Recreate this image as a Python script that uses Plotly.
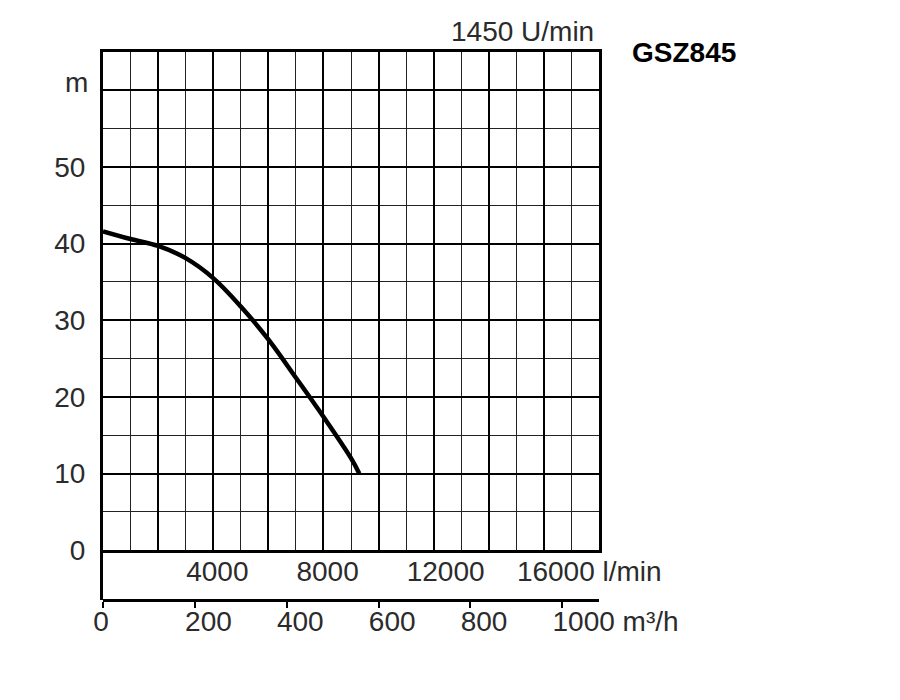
import plotly.graph_objects as go

# pump curve GSZ845 at 1450 U/min, flow in l/min, head in m
flow_lmin = [0, 1000, 2000, 3000, 4000, 5000, 6000, 7000, 8000, 9000, 9300]
head_m = [41.6, 40.6, 39.7, 38.1, 35.5, 31.8, 27.5, 22.5, 17.4, 12.0, 10.0]

lmin_ticks = [4000, 8000, 12000, 16000]
lmin_labels = ["4000", "8000", "12000", "16000 l/min"]
m3h_ticks = [0, 200, 400, 600, 800, 1000]
m3h_labels = ["0", "200", "400", "600", "800", "1000 m³/h"]
head_ticks = [0, 10, 20, 30, 40, 50, 60]
head_labels = ["0", "10", "20", "30", "40", "50", ""]

LMIN_MAX = 18000
M3H_MAX = LMIN_MAX * 0.06
TXT = "#2b2b2b"
FONT = "Liberation Sans, Arial, sans-serif"

fig = go.Figure()

fig.add_trace(go.Scatter(
    x=flow_lmin, y=head_m, mode="lines", line_shape="spline",
    line=dict(color="black", width=4.5),
    hoverinfo="skip", showlegend=False,
))
# invisible copies so the extra axes get drawn
fig.add_trace(go.Scatter(
    x=[q * 0.06 for q in flow_lmin], y=head_m, mode="lines",
    xaxis="x2", line=dict(width=0), opacity=0,
    hoverinfo="skip", showlegend=False,
))
fig.add_trace(go.Scatter(
    x=flow_lmin, y=head_m, mode="lines",
    xaxis="x3", line=dict(width=0), opacity=0,
    hoverinfo="skip", showlegend=False,
))
fig.add_trace(go.Scatter(
    x=[], y=[], mode="lines", xaxis="x2", yaxis="y2",
    hoverinfo="skip", showlegend=False,
))

band = 50 / 550

fig.update_layout(
    width=900, height=700,
    # page body adds a few px, so margins are a bit smaller on top/left
    margin=dict(l=95, r=309, t=44, b=108, autoexpand=False),
    paper_bgcolor="white", plot_bgcolor="white",
    font=dict(family=FONT, size=28, color=TXT),
    xaxis=dict(
        range=[0, LMIN_MAX], tickvals=list(range(0, LMIN_MAX + 1, 2000)),
        showticklabels=False, ticks="",
        showgrid=True, gridcolor="black", gridwidth=2,
        minor=dict(dtick=1000, showgrid=True, gridcolor="#222", gridwidth=1),
        showline=True, linecolor="black", linewidth=3, mirror=True,
        zeroline=False, anchor="y", automargin=False,
    ),
    xaxis3=dict(
        range=[0, LMIN_MAX], overlaying="x", anchor="y", side="bottom",
        tickvals=lmin_ticks, ticktext=lmin_labels, tickangle=0,
        ticklabelposition="outside right", ticklabelshift=-27,
        ticklabelstandoff=2,
        showgrid=False, zeroline=False, ticks="", showline=False,
        automargin=False,
    ),
    xaxis2=dict(
        range=[0, M3H_MAX], overlaying="x", anchor="free", position=0,
        side="bottom", tickangle=0,
        tickvals=m3h_ticks, ticktext=m3h_labels,
        ticklabelposition="outside right", ticklabelshift=-12,
        ticklabelstandoff=-5,
        ticks="outside", ticklen=6, tickwidth=1.5, tickcolor="black",
        showline=True, linecolor="black", linewidth=3,
        showgrid=False, zeroline=False, automargin=False,
    ),
    yaxis=dict(
        domain=[band, 1], range=[0, 65],
        tickvals=head_ticks, ticktext=head_labels, ticks="",
        ticklabelstandoff=9,
        showgrid=True, gridcolor="black", gridwidth=2,
        minor=dict(dtick=5, showgrid=True, gridcolor="#222", gridwidth=1.3),
        showline=True, linecolor="black", linewidth=3, mirror=True,
        zeroline=False, anchor="x", automargin=False,
    ),
    yaxis2=dict(
        domain=[0, band], range=[0, 1], anchor="x",
        showline=True, linecolor="black", linewidth=3,
        showgrid=False, zeroline=False, showticklabels=False, ticks="",
        automargin=False,
    ),
    annotations=[
        dict(text="1450 U/min", xref="paper", yref="paper",
             x=0.994, y=1.038, xanchor="right", yanchor="middle",
             showarrow=False, font=dict(size=28, color=TXT)),
        dict(text="<b>GSZ845</b>", xref="paper", yref="paper",
             x=1.062, y=1.0, xanchor="left", yanchor="middle",
             showarrow=False, font=dict(size=28, color="black")),
        dict(text="m", xref="paper", yref="paper",
             x=-0.026, y=0.944, xanchor="right", yanchor="middle",
             showarrow=False, font=dict(size=28, color=TXT)),
    ],
)

fig.write_html("out.html")
